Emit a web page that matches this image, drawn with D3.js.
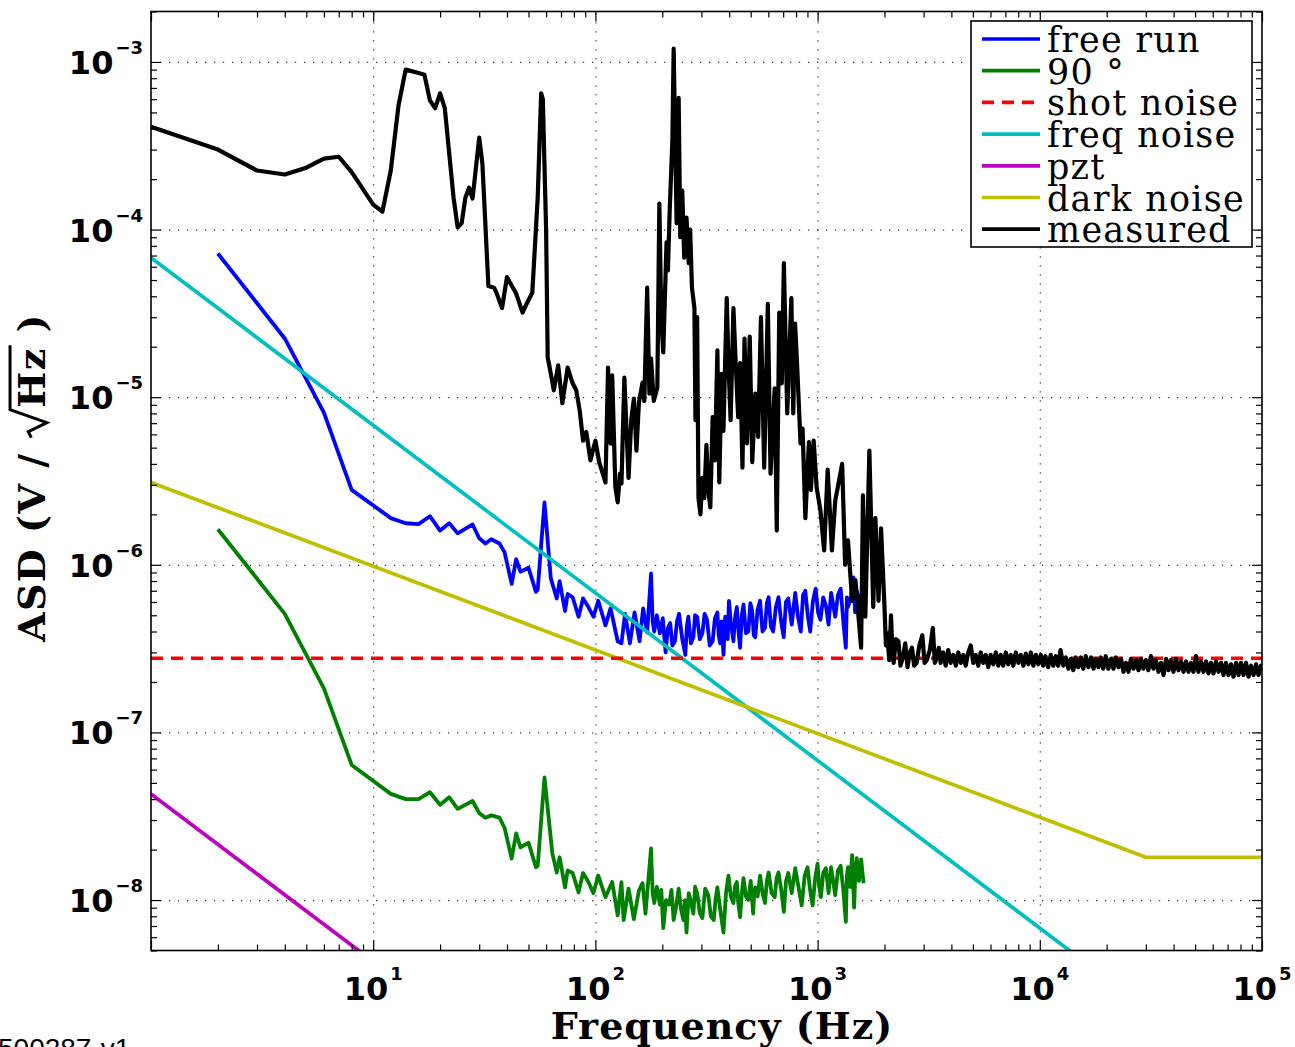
<!DOCTYPE html>
<html>
<head>
<meta charset="utf-8">
<script src="https://cdn.jsdelivr.net/npm/d3@7"></script>
<style>
  body { margin: 0; background: #fff; }
  svg { display: block; }
</style>
</head>
<body>
<svg id="chart" width="1295" height="1047"></svg>
<script>
// ASD curves, [frequency Hz, V/sqrt(Hz)]
const freeRun = [[2,7.2e-5],[4,2.24e-5],[6,8.1e-6],[8,2.8e-6],[12,1.9e-6],[14,1.77e-6],[16,1.75e-6],[18,1.95e-6],[20,1.6e-6],[22,1.77e-6],[24,1.54e-6],[28,1.74e-6],[30,1.44e-6],[32,1.34e-6],[34,1.42e-6],[37,1.34e-6],[39,1.19e-6],[42,7.7e-7],[44,1.08e-6],[46,9.1e-7],[50,9.6e-7],[54,6.9e-7],[55,7.1e-7],[59,2.36e-6],[63,8.3e-7],[67,6.3e-7],[69,8.0e-7],[73,5.3e-7],[75,6.7e-7],[79,6.4e-7],[84,4.9e-7],[88,6.3e-7],[93,5.6e-7],[98,4.9e-7],[103,6.1e-7],[111,4.35e-7],[117,5.5e-7],[126,3.5e-7],[131,3.4e-7],[136,5.1e-7],[143,3.4e-7],[150,5.2e-7],[158,3.5e-7],[164,5.5e-7],[171,3.95e-7],[178,8.9e-7],[181,4.6e-7],[184,4.0e-7],[189,5.0e-7],[195,3.9e-7],[201,4.8e-7],[207,3.0e-7],[212,4.2e-7],[217,4.5e-7],[222,3.3e-7],[228,3.5e-7],[233,4.6e-7],[238,5.1e-7],[246,3.6e-7],[254,2.9e-7],[258,4.3e-7],[262,4.9e-7],[269,3.4e-7],[276,3.7e-7],[281,5.0e-7],[287,4.9e-7],[295,3.6e-7],[303,3.9e-7],[310,5.1e-7],[318,4.7e-7],[327,3.3e-7],[337,3.5e-7],[345,4.8e-7],[354,5.2e-7],[359,3.8e-7],[364,3.4e-7],[370,4.6e-7],[377,2.9e-7],[384,4.9e-7],[390,4.2e-7],[394,3.6e-7],[399,6.1e-7],[408,4.4e-7],[418,3.5e-7],[425,4.8e-7],[433,5.6e-7],[440,4.1e-7],[448,3.2e-7],[456,5.0e-7],[464,5.8e-7],[476,3.9e-7],[488,4.0e-7],[498,5.9e-7],[508,5.3e-7],[516,3.8e-7],[524,3.7e-7],[537,5.4e-7],[551,6.1e-7],[565,4.0e-7],[580,4.2e-7],[591,5.9e-7],[602,6.4e-7],[616,4.3e-7],[631,4.0e-7],[649,5.6e-7],[667,6.4e-7],[685,4.6e-7],[704,3.7e-7],[720,6.0e-7],[738,6.3e-7],[765,4.4e-7],[793,6.8e-7],[816,4.9e-7],[840,4.0e-7],[860,6.6e-7],[880,7.0e-7],[903,5.0e-7],[926,4.0e-7],[953,6.1e-7],[980,7.2e-7],[1005,5.2e-7],[1030,4.7e-7],[1060,6.4e-7],[1090,5.7e-7],[1120,4.4e-7],[1150,6.8e-7],[1175,5.8e-7],[1200,4.9e-7],[1235,6.6e-7],[1270,7.2e-7],[1305,4.6e-7],[1340,3.2e-7],[1355,6.4e-7],[1370,5.6e-7],[1410,6.3e-7],[1450,8.4e-7],[1475,5.2e-7],[1500,7.0e-7],[1550,6.2e-7],[1600,5.5e-7]];

const quadrature = [[2,1.63e-6],[4,5.1e-7],[6,1.83e-7],[8,6.4e-8],[12,4.3e-8],[14,4.0e-8],[16,4.0e-8],[18,4.4e-8],[20,3.7e-8],[22,4.1e-8],[24,3.5e-8],[28,3.9e-8],[30,3.3e-8],[32,3.1e-8],[34,3.2e-8],[37,3.1e-8],[39,2.7e-8],[42,1.77e-8],[44,2.5e-8],[46,2.06e-8],[50,2.2e-8],[54,1.57e-8],[55,1.6e-8],[59,5.4e-8],[64,1.9e-8],[67,1.46e-8],[69,1.8e-8],[73,1.19e-8],[75,1.5e-8],[79,1.45e-8],[84,1.11e-8],[88,1.45e-8],[93,1.28e-8],[98,1.1e-8],[103,1.4e-8],[111,1.04e-8],[119,1.28e-8],[126,8.1e-9],[131,1.28e-8],[134,7.6e-9],[141,1.17e-8],[149,7.7e-9],[157,1.14e-8],[163,1.26e-8],[168,8.3e-9],[178,2.03e-8],[181,1.1e-8],[184,9.6e-9],[189,1.2e-8],[195,9.4e-9],[198,1.15e-8],[202,6.8e-9],[208,1.0e-8],[215,9.4e-9],[220,1.15e-8],[225,7.6e-9],[231,9.2e-9],[237,1.17e-8],[243,8.8e-9],[249,7.6e-9],[253,1.0e-8],[257,6.4e-9],[263,1.1e-8],[269,9.8e-9],[276,8.3e-9],[281,1.2e-8],[287,1.1e-8],[295,8.4e-9],[303,7.8e-9],[312,1.17e-8],[322,1.07e-8],[331,8.0e-9],[341,7.6e-9],[347,1.0e-8],[354,1.19e-8],[365,8.7e-9],[377,6.4e-9],[387,1.1e-8],[397,1.4e-8],[407,1.05e-8],[418,9.6e-9],[425,1.2e-8],[433,1.28e-8],[440,9.5e-9],[448,7.9e-9],[456,1.1e-8],[464,1.35e-8],[476,1.05e-8],[488,1.0e-8],[500,1.3e-8],[513,8.3e-9],[518,1.1e-8],[524,1.19e-8],[537,1.05e-8],[551,1.4e-8],[565,1.1e-8],[580,9.6e-9],[591,1.3e-8],[602,1.46e-8],[621,1.1e-8],[641,1.04e-8],[654,1.35e-8],[667,1.46e-8],[686,1.15e-8],[705,8.5e-9],[721,1.3e-8],[738,1.45e-8],[765,1.1e-8],[793,1.55e-8],[820,1.2e-8],[848,9.3e-9],[875,1.4e-8],[901,1.57e-8],[925,1.15e-8],[950,9.3e-9],[975,1.35e-8],[1000,1.65e-8],[1017,1.2e-8],[1035,1.04e-8],[1060,1.45e-8],[1090,1.55e-8],[1120,1.1e-8],[1150,1.57e-8],[1175,1.3e-8],[1200,1.07e-8],[1235,1.5e-8],[1270,1.6e-8],[1305,1.15e-8],[1340,7.4e-9],[1355,1.4e-8],[1370,1.57e-8],[1400,1.2e-8],[1430,1.85e-8],[1460,9.0e-9],[1480,1.5e-8],[1500,1.78e-8],[1535,1.3e-8],[1570,1.75e-8],[1610,1.26e-8]];

const shotNoise = [[1,2.77e-7],[1e5,2.77e-7]];
const freqNoise = [[1,6.8e-5],[1e5,6.8e-10]];
const pzt = [[1,4.3e-8],[1e5,4.3e-13]];
const darkNoise = [[1,3.1e-6],[3e4,1.8e-8],[1e5,1.8e-8]];

const measured = [[1,4.1e-4],[2,3.0e-4],[3,2.25e-4],[4,2.13e-4],[5,2.34e-4],[6,2.65e-4],[7,2.72e-4],[8,2.2e-4],[10,1.41e-4],[11,1.28e-4],[12,2.25e-4],[13,5.5e-4],[14,9.0e-4],[16,8.6e-4],[17,8.4e-4],[18,5.9e-4],[19,5.3e-4],[20,6.5e-4],[21,5.3e-4],[23,1.55e-4],[24,1.03e-4],[25,1.09e-4],[26,1.55e-4],[27,1.78e-4],[28,1.53e-4],[30,3.54e-4],[31,2.48e-4],[33,4.6e-5],[35,4.5e-5],[36,4.15e-5],[38,3.4e-5],[40,5.2e-5],[44,4.15e-5],[47,3.2e-5],[49,3.6e-5],[52,4.2e-5],[55,1.55e-4],[57,6.5e-4],[58,6.0e-4],[60,1.0e-4],[61,1.72e-5],[62,1.55e-5],[65,1.1e-5],[68,1.55e-5],[71,9.2e-6],[75,1.5e-5],[79,1.21e-5],[82,1.1e-5],[85,8.3e-6],[88,5.5e-6],[91,6.2e-6],[95,4.2e-6],[100,5.5e-6],[104,4.1e-6],[111,3.1e-6],[114,1.5e-5],[117,5.3e-6],[119,1.35e-5],[123,2.9e-6],[126,2.36e-6],[129,3.5e-6],[131,3.06e-6],[135,1.31e-5],[141,3.3e-6],[145,7.3e-6],[149,9.8e-6],[153,4.8e-6],[157,9.3e-6],[163,1.22e-5],[166,9.5e-6],[171,4.5e-5],[175,1.05e-5],[178,1.7e-5],[183,9.5e-6],[190,1.14e-5],[194,1.43e-4],[198,2.87e-5],[202,1.85e-5],[209,8.4e-5],[212,5.7e-5],[216,1.3e-4],[222,3.4e-4],[225,1.2e-3],[232,1.09e-4],[237,6.1e-4],[241,9.0e-5],[246,1.71e-4],[251,6.8e-5],[257,1.18e-4],[263,6.3e-5],[267,1.0e-4],[272,4.5e-5],[279,3.4e-5],[282,7.3e-6],[287,3.0e-5],[291,2.5e-6],[297,2.0e-6],[303,3.3e-6],[309,2.5e-6],[316,5.2e-6],[322,2.8e-6],[329,2.2e-6],[337,7.6e-6],[345,4.2e-6],[354,1.9e-5],[361,3.1e-6],[370,1.38e-5],[377,6.3e-6],[390,3.9e-5],[397,1.6e-5],[406,7.3e-6],[418,3.4e-5],[428,1.6e-5],[439,7.6e-6],[448,1.6e-5],[459,3.8e-6],[469,2.24e-5],[481,5.3e-6],[495,2.3e-5],[508,4.1e-6],[524,1.05e-5],[540,5.8e-6],[556,3.0e-5],[575,3.8e-6],[597,3.6e-5],[614,3.5e-6],[641,1.13e-5],[655,1.6e-6],[672,3.2e-5],[690,1.21e-5],[705,6.3e-5],[730,8.0e-6],[762,3.9e-5],[777,8.0e-6],[792,2.75e-5],[808,1.6e-5],[838,5.3e-6],[856,6.5e-6],[881,1.9e-6],[914,5.4e-6],[933,2.8e-6],[960,5.5e-6],[990,2.9e-6],[1030,2.1e-6],[1070,1.22e-6],[1110,3.7e-6],[1160,1.22e-6],[1200,2.4e-6],[1290,4.0e-6],[1330,1.0e-6],[1370,1.4e-6],[1430,6.1e-7],[1480,8.1e-7],[1570,3.2e-7],[1600,2.6e-6],[1640,4.9e-7],[1710,4.8e-6],[1780,5.6e-7],[1820,1.9e-6],[1880,6.1e-7],[1930,1.65e-6],[2000,5.6e-7],[2030,3.3e-7],[2060,3.9e-7],[2100,2.7e-7],[2140,5.0e-7],[2170,3.0e-7],[2200,2.6e-7],[2250,3.6e-7],[2310,3.5e-7],[2360,2.5e-7],[2420,2.8e-7],[2480,3.4e-7],[2540,2.45e-7],[2600,3.0e-7],[2660,3.2e-7],[2720,2.5e-7],[2790,2.6e-7],[2870,3.3e-7],[2960,3.8e-7],[3030,2.6e-7],[3100,2.7e-7],[3200,3.1e-7],[3300,4.2e-7],[3370,2.6e-7],[3440,2.8e-7],[3510,3.2e-7],[3580,2.6e-7],[3675,3.0e-7],[3770,2.5e-7],[3870,3.1e-7],[3970,2.6e-7],[4080,2.9e-7],[4190,2.5e-7],[4300,3.0e-7],[4410,2.6e-7],[4525,2.9e-7],[4640,2.5e-7],[4765,3.0e-7],[4890,3.3e-7],[5020,2.6e-7],[5150,2.9e-7],[5285,2.5e-7],[5420,3.0e-7],[5565,2.6e-7],[5710,2.9e-7],[5860,2.45e-7],[6010,2.9e-7],[6175,2.55e-7],[6340,3.0e-7],[6505,2.5e-7],[6670,2.9e-7],[6850,2.5e-7],[7030,3.0e-7],[7215,2.55e-7],[7400,2.9e-7],[7600,2.5e-7],[7800,3.0e-7],[8005,2.6e-7],[8210,2.9e-7],[8430,2.5e-7],[8650,2.95e-7],[8880,2.55e-7],[9110,3.0e-7],[9350,2.5e-7],[9590,2.9e-7],[9845,2.55e-7],[10100,2.9e-7],[10350,2.5e-7],[10600,2.85e-7],[10900,2.45e-7],[11200,2.9e-7],[11500,2.5e-7],[11800,2.85e-7],[12100,2.5e-7],[12400,3.1e-7],[12750,2.5e-7],[13100,2.8e-7],[13450,2.4e-7],[13800,2.75e-7],[14150,2.35e-7],[14500,2.8e-7],[14900,2.45e-7],[15300,2.8e-7],[15700,2.4e-7],[16100,2.85e-7],[16550,2.45e-7],[17000,2.8e-7],[17450,2.4e-7],[17900,2.75e-7],[18350,2.45e-7],[18800,2.8e-7],[19300,2.4e-7],[19800,2.85e-7],[20350,2.4e-7],[20900,2.75e-7],[21450,2.4e-7],[22000,2.8e-7],[22600,2.45e-7],[23200,2.75e-7],[23800,2.3e-7],[24400,2.6e-7],[25050,2.3e-7],[25700,2.75e-7],[26400,2.4e-7],[27100,2.7e-7],[27800,2.35e-7],[28500,2.75e-7],[29250,2.4e-7],[30000,2.7e-7],[30800,2.35e-7],[31600,2.85e-7],[32450,2.4e-7],[33300,2.7e-7],[34200,2.3e-7],[35100,2.6e-7],[36050,2.2e-7],[37000,2.75e-7],[37950,2.35e-7],[38900,2.7e-7],[39950,2.3e-7],[41000,2.75e-7],[42100,2.35e-7],[43200,2.65e-7],[44350,2.3e-7],[45500,2.65e-7],[46700,2.3e-7],[47900,2.6e-7],[49150,2.3e-7],[50400,2.85e-7],[51750,2.3e-7],[53100,2.65e-7],[54550,2.3e-7],[56000,2.65e-7],[57450,2.25e-7],[58900,2.6e-7],[60500,2.25e-7],[62100,2.65e-7],[63750,2.3e-7],[65400,2.6e-7],[67100,2.2e-7],[68800,2.6e-7],[70650,2.2e-7],[72500,2.55e-7],[74450,2.15e-7],[76400,2.6e-7],[78400,2.2e-7],[80400,2.6e-7],[82550,2.2e-7],[84700,2.6e-7],[86950,2.15e-7],[89200,2.5e-7],[91600,2.2e-7],[94000,2.55e-7],[96450,2.2e-7],[98900,2.5e-7],[100000,2.3e-7]];

const seriesNames = ['free run', '90 °', 'shot noise', 'freq noise', 'pzt', 'dark noise', 'measured'];
const seriesColors = ['#0000ff', '#008000', '#ff0000', '#00bfbf', '#bf00bf', '#bfbf00', '#000000'];

const xTickValues = [10, 100, 1000, 10000, 100000];
const xTickExp = ['1', '2', '3', '4', '5'];
const yTickValues = [1e-3, 1e-4, 1e-5, 1e-6, 1e-7, 1e-8];
const yTickExp = ['\u22123', '\u22124', '\u22125', '\u22126', '\u22127', '\u22128'];

const svg = d3.select('#chart');
const plot = { left: 151, right: 1262, top: 11.5, bottom: 950.5 };
plot.width = plot.right - plot.left;
plot.height = plot.bottom - plot.top;

const x = d3.scaleLog().domain([1, 1e5]).range([plot.left, plot.right]);
const y = d3.scaleLog().domain([5e-9, 2e-3]).range([plot.bottom, plot.top]);

svg.append('defs').append('clipPath').attr('id', 'clip')
  .append('rect')
  .attr('x', plot.left).attr('y', plot.top)
  .attr('width', plot.width).attr('height', plot.height);

// dotted grid at the decades
const grid = svg.append('g').attr('class', 'grid');
grid.append('g')
  .attr('transform', `translate(0, ${plot.bottom})`)
  .call(d3.axisBottom(x).tickValues(xTickValues.slice(0, 4)).tickSize(-plot.height).tickFormat(''));
grid.append('g')
  .attr('transform', `translate(${plot.left}, 0)`)
  .call(d3.axisLeft(y).tickValues(yTickValues).tickSize(-plot.width).tickFormat(''));
grid.selectAll('.domain').remove();
grid.selectAll('line')
  .attr('stroke', '#333')
  .attr('stroke-width', 1.2)
  .attr('stroke-dasharray', '1.2,7.8');

// curves
const line = d3.line().x((d) => x(d[0])).y((d) => y(d[1]));
const curves = svg.append('g').attr('clip-path', 'url(#clip)')
  .attr('fill', 'none').attr('stroke-linejoin', 'round');

const drawOrder = [
  [freeRun, 0, 3.8], [quadrature, 1, 3.8], [freqNoise, 3, 3.7], [pzt, 4, 3.7],
  [darkNoise, 5, 3.7], [shotNoise, 2, 3.7], [measured, 6, 4.2]
];
drawOrder.forEach(([data, i, w]) => {
  curves.append('path')
    .datum(data)
    .attr('d', line)
    .attr('stroke', seriesColors[i])
    .attr('stroke-width', w)
    .attr('stroke-dasharray', i === 2 ? '12,8' : null);
});

// axes with inward ticks on all four sides
const axes = svg.append('g').attr('class', 'axes');
const xMinor = x.ticks().filter((v) => !xTickValues.includes(v) && v !== 1);
const yMinor = y.ticks().filter((v) => !yTickValues.includes(v));
const xMajorAll = [1].concat(xTickValues);

function addAxis(axisFn, scale, values, size, transform) {
  axes.append('g')
    .attr('transform', transform)
    .call(axisFn(scale).tickValues(values).tickSize(-size).tickFormat(''));
}
addAxis(d3.axisBottom, x, xMinor, 6, `translate(0, ${plot.bottom})`);
addAxis(d3.axisBottom, x, xMajorAll, 10, `translate(0, ${plot.bottom})`);
addAxis(d3.axisTop, x, xMinor, 6, `translate(0, ${plot.top})`);
addAxis(d3.axisTop, x, xMajorAll, 10, `translate(0, ${plot.top})`);
addAxis(d3.axisLeft, y, yMinor, 6, `translate(${plot.left}, 0)`);
addAxis(d3.axisLeft, y, yTickValues, 10, `translate(${plot.left}, 0)`);
addAxis(d3.axisRight, y, yMinor, 6, `translate(${plot.right}, 0)`);
addAxis(d3.axisRight, y, yTickValues, 10, `translate(${plot.right}, 0)`);
axes.selectAll('.domain').remove();
axes.selectAll('line').attr('stroke', '#000').attr('stroke-width', 1.2);

svg.append('rect')
  .attr('x', plot.left).attr('y', plot.top)
  .attr('width', plot.width).attr('height', plot.height)
  .attr('fill', 'none').attr('stroke', '#000').attr('stroke-width', 1.6);

// tick labels: 10 with superscript exponent
const tickFont = '"DejaVu Sans", sans-serif';
yTickValues.forEach((v, i) => {
  const t = svg.append('text')
    .attr('x', 143).attr('y', y(v) + 12)
    .attr('text-anchor', 'end')
    .attr('font-family', tickFont).attr('font-weight', 'bold');
  t.append('tspan').attr('font-size', 32).text('10');
  t.append('tspan').attr('font-size', 18).attr('dx', 2).attr('dy', -20).text(yTickExp[i]);
});
xTickValues.forEach((v, i) => {
  const t = svg.append('text')
    .attr('x', x(v)).attr('y', 1000)
    .attr('text-anchor', 'middle')
    .attr('font-family', tickFont).attr('font-weight', 'bold');
  t.append('tspan').attr('font-size', 32).text('10');
  t.append('tspan').attr('font-size', 18).attr('dx', 2).attr('dy', -20).text(xTickExp[i]);
});

// axis labels
const labelFont = '"DejaVu Serif", serif';
svg.append('text')
  .attr('x', 722).attr('y', 1039)
  .attr('text-anchor', 'middle')
  .attr('font-family', labelFont).attr('font-weight', 'bold').attr('font-size', 38)
  .attr('letter-spacing', 1)
  .text('Frequency (Hz)');

const yl = svg.append('g').attr('transform', 'translate(45, 477.5) rotate(-90)');
const ylFont = 38;
function ylText(str) {
  return yl.append('text')
    .attr('font-family', labelFont).attr('font-weight', 'bold')
    .attr('font-size', ylFont).attr('letter-spacing', 1.5)
    .text(str);
}
const t1 = ylText('ASD (V /\u00a0');
const t2 = ylText('Hz');
const t3 = ylText('\u00a0)');
const w1 = t1.node().getComputedTextLength();
const w2 = t2.node().getComputedTextLength();
const w3 = t3.node().getComputedTextLength();
const rw = 30;
const total = w1 + rw + w2 + w3;
const u0 = -total / 2;
t1.attr('x', u0);
t2.attr('x', u0 + w1 + rw);
t3.attr('x', u0 + w1 + rw + w2);
const ra = u0 + w1;
const radTop = -0.92 * ylFont;
yl.append('path')
  .attr('d', `M${ra},${-0.36 * ylFont} L${ra + 6},${-0.44 * ylFont} L${ra + 15},${0.05 * ylFont} L${ra + rw - 2},${radTop} L${ra + rw + w2 + 2},${radTop}`)
  .attr('fill', 'none').attr('stroke', '#000').attr('stroke-width', 3)
  .attr('stroke-linejoin', 'miter');

// legend
const legend = svg.append('g').attr('class', 'legend');
legend.append('rect')
  .attr('x', 971).attr('y', 21).attr('width', 281).attr('height', 226)
  .attr('fill', '#fff').attr('stroke', '#000').attr('stroke-width', 1.6);
seriesNames.forEach((name, i) => {
  const ly = 39 + i * 31.7;
  legend.append('line')
    .attr('x1', 982).attr('x2', 1040).attr('y1', ly).attr('y2', ly)
    .attr('stroke', seriesColors[i]).attr('stroke-width', 3.7)
    .attr('stroke-dasharray', i === 2 ? '12,8' : null);
  legend.append('text')
    .attr('x', 1047).attr('y', ly + 13)
    .attr('font-family', labelFont).attr('font-size', 35)
    .attr('letter-spacing', 1.2)
    .text(name);
});

// footer id, partly cut by the page edge
svg.append('text')
  .attr('x', -2).attr('y', 1058)
  .attr('font-family', '"Liberation Sans", Arial, sans-serif').attr('font-size', 28)
  .text('500287-v1');
</script>
</body>
</html>
